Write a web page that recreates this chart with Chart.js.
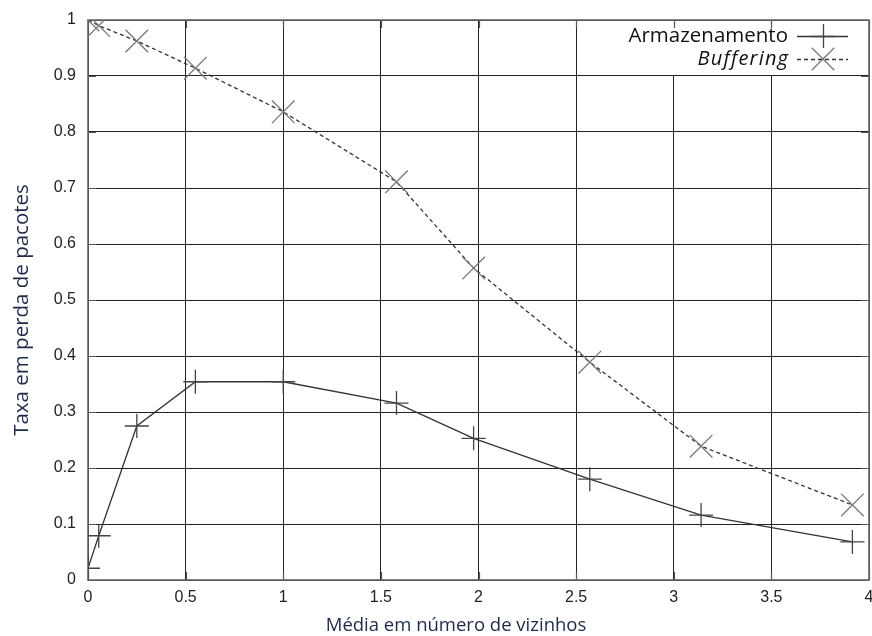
<!DOCTYPE html>
<html>
<head>
<meta charset="utf-8">
<script src="https://cdn.jsdelivr.net/npm/chart.js@4/dist/chart.umd.min.js"></script>
<style>
  html, body { margin: 0; padding: 0; background: #fff; overflow: hidden; }
  #wrap { width: 872px; height: 636px; }
  canvas { display: block; }
</style>
</head>
<body>
<div id="wrap"><canvas id="c" width="872" height="636"></canvas></div>
<script>
// Mean number of neighbours (x) and packet loss rate (y) for each strategy
const neighbours = [0, 0.055, 0.25, 0.55, 1.0, 1.58, 1.975, 2.57, 3.14, 3.915];
const storageLoss = [0.021, 0.079, 0.275, 0.354, 0.354, 0.316, 0.253, 0.18, 0.116, 0.068];
const bufferingLoss = [1.0, 0.99, 0.9625, 0.914, 0.836, 0.711, 0.557, 0.389, 0.239, 0.134];

const seriesNames = ['Armazenamento', 'Buffering'];
const xTickLabels = ['0', '0.5', '1', '1.5', '2', '2.5', '3', '3.5', '4'];
const yTickLabels = ['0', '0.1', '0.2', '0.3', '0.4', '0.5', '0.6', '0.7', '0.8', '0.9', '1'];

const xTitle = 'Média em número de vizinhos';
const yTitle = 'Taxa em perda de pacotes';

const toPoints = (xs, ys) => xs.map((x, i) => ({ x: x, y: ys[i] }));

const tickFont = { family: '"Liberation Sans", Arial, sans-serif', size: 16 };
const titleColor = '#1e2a48';
const TICK_LEN = 8;

// gnuplot-style frame: inward ticks on all four sides, boxed border, key in the corner
const framePlugin = {
  id: 'frame',
  beforeDatasetsDraw(chart) {
    const { ctx, chartArea: a, scales } = chart;
    ctx.save();
    // opaque key background
    ctx.fillStyle = '#fff';
    ctx.fillRect(620, a.top + 1, a.right - 621, 54);

    ctx.strokeStyle = '#555';
    ctx.lineWidth = 1.2;
    ctx.beginPath();
    scales.x.ticks.forEach(t => {
      const px = Math.round(scales.x.getPixelForValue(t.value)) + 0.5;
      ctx.moveTo(px, a.bottom); ctx.lineTo(px, a.bottom - TICK_LEN);
      ctx.moveTo(px, a.top); ctx.lineTo(px, a.top + TICK_LEN);
    });
    scales.y.ticks.forEach(t => {
      const py = Math.round(scales.y.getPixelForValue(t.value)) + 0.5;
      ctx.moveTo(a.left, py); ctx.lineTo(a.left + TICK_LEN, py);
      ctx.moveTo(a.right, py); ctx.lineTo(a.right - TICK_LEN, py);
    });
    ctx.stroke();

    ctx.strokeStyle = '#666';
    ctx.lineWidth = 1.6;
    ctx.strokeRect(a.left, a.top, a.right - a.left, a.bottom - a.top);

    // axis titles
    ctx.fillStyle = titleColor;
    ctx.textAlign = 'center';
    ctx.textBaseline = 'middle';
    ctx.font = '18.5px "Open Sans", sans-serif';
    ctx.fillText(xTitle, 456, 626);
    ctx.translate(22, 310);
    ctx.rotate(-Math.PI / 2);
    ctx.font = '20.5px "Open Sans", sans-serif';
    ctx.fillText(yTitle, 0, 0);
    ctx.restore();
  },
  afterDatasetsDraw(chart) {
    const { ctx } = chart;
    const ds = chart.data.datasets;
    const textRight = 788, lineL = 797, lineR = 848, mark = 823;
    const rows = [36, 59];
    ctx.save();
    ctx.textAlign = 'right';
    ctx.textBaseline = 'middle';
    ctx.fillStyle = '#111';
    rows.forEach((y, i) => {
      if (i === 1) {
        ctx.font = 'italic 20px "Open Sans", sans-serif';
        ctx.letterSpacing = '1.2px';
        ctx.fillText(ds[i].label, textRight + 1.2, y);
        ctx.letterSpacing = '0px';
      } else {
        ctx.font = '20.5px "Open Sans", sans-serif';
        ctx.fillText(ds[i].label, textRight, y);
      }
      ctx.strokeStyle = ds[i].borderColor;
      ctx.lineWidth = ds[i].borderWidth;
      ctx.setLineDash(ds[i].borderDash || []);
      ctx.beginPath();
      ctx.moveTo(lineL, y + 0.5); ctx.lineTo(lineR, y + 0.5);
      ctx.stroke();
      ctx.setLineDash([]);
      ctx.strokeStyle = ds[i].pointBorderColor;
      ctx.lineWidth = ds[i].pointBorderWidth;
      const r = ds[i].pointRadius;
      ctx.beginPath();
      if (ds[i].pointStyle === 'cross') {
        ctx.moveTo(mark - r, y + 0.5); ctx.lineTo(mark + r, y + 0.5);
        ctx.moveTo(mark + 0.5, y - r); ctx.lineTo(mark + 0.5, y + r);
      } else {
        const d = r * Math.SQRT1_2;
        ctx.moveTo(mark - d, y - d); ctx.lineTo(mark + d, y + d);
        ctx.moveTo(mark - d, y + d); ctx.lineTo(mark + d, y - d);
      }
      ctx.stroke();
    });
    ctx.restore();
  }
};

new Chart(document.getElementById('c'), {
  type: 'scatter',
  data: {
    datasets: [
      {
        label: seriesNames[0],
        data: toPoints(neighbours, storageLoss),
        showLine: true,
        borderColor: '#333',
        borderWidth: 1.3,
        pointStyle: 'cross',
        pointRadius: 12,
        pointBorderColor: '#444',
        pointBorderWidth: 1.3,
        pointBackgroundColor: 'transparent'
      },
      {
        label: seriesNames[1],
        data: toPoints(neighbours, bufferingLoss),
        showLine: true,
        borderColor: '#333',
        borderWidth: 1.3,
        borderDash: [4, 3],
        pointStyle: 'crossRot',
        pointRadius: 16,
        pointBorderColor: '#777',
        pointBorderWidth: 1.3,
        pointBackgroundColor: 'transparent'
      }
    ]
  },
  options: {
    responsive: false,
    animation: false,
    layout: { autoPadding: false, padding: { top: 20, right: 3, left: 0, bottom: 0 } },
    plugins: {
      legend: { display: false },
      tooltip: { enabled: false }
    },
    scales: {
      x: {
        type: 'linear',
        min: 0, max: 4,
        ticks: {
          stepSize: 0.5,
          color: '#222',
          font: tickFont,
          padding: 8,
          maxRotation: 0,
          callback: (v, i) => xTickLabels[i]
        },
        grid: { color: '#222', lineWidth: 1, borderDash: [1.5, 1.5], drawTicks: false },
        border: { display: false },
        title: { display: false },
        afterFit(s) { s.height = 56; s.paddingLeft = 0; s.paddingRight = 0; }
      },
      y: {
        type: 'linear',
        min: 0, max: 1,
        ticks: {
          stepSize: 0.1,
          color: '#222',
          font: tickFont,
          padding: 12,
          callback: (v, i) => yTickLabels[i]
        },
        grid: { color: '#222', lineWidth: 1, borderDash: [1.5, 1.5], drawTicks: false },
        border: { display: false },
        title: { display: false },
        afterFit(s) { s.width = 88; s.paddingTop = 0; s.paddingBottom = 0; }
      }
    }
  },
  plugins: [framePlugin]
});
</script>
</body>
</html>
